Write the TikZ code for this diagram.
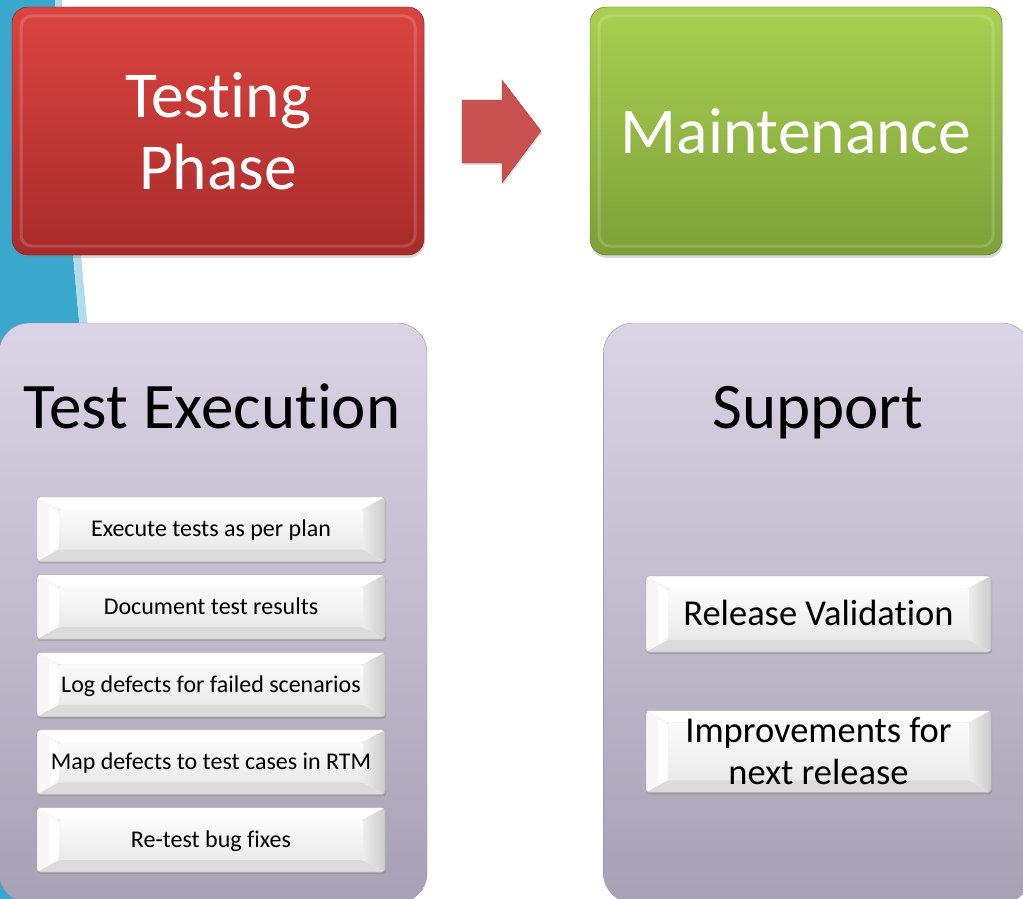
\documentclass[tikz,border=0pt]{standalone}
\usepackage{fontspec}
\setmainfont{Carlito}[Ligatures=NoCommon]
\usetikzlibrary{positioning,shadows}
\definecolor{redtop}{RGB}{218,68,64}
\definecolor{redbot}{RGB}{168,44,42}
\definecolor{greentop}{RGB}{168,208,80}
\definecolor{greenbot}{RGB}{126,160,58}
\definecolor{lavtop}{RGB}{218,212,230}
\definecolor{lavbot}{RGB}{168,161,181}
\definecolor{lavline}{RGB}{150,142,165}
\definecolor{bgblue}{RGB}{58,167,206}
\definecolor{arrowred}{RGB}{200,80,78}
\begin{document}
\begin{tikzpicture}[x=1pt,y=-1pt,node distance=578pt,
  phase node/.style={rectangle,rounded corners=16pt,minimum width=412pt,minimum height=248pt,inner sep=0pt,text=white,align=center,font=\fontsize{65.5}{72}\selectfont,
    drop shadow={opacity=.3,shadow xshift=1pt,shadow yshift=-3pt},
    path picture={\draw[white,opacity=.16,line width=3pt,rounded corners=11pt] ([xshift=9pt,yshift=-9pt]path picture bounding box.north west) rectangle ([xshift=-9pt,yshift=9pt]path picture bounding box.south east);}},
  lav node/.style={rectangle,rounded corners=30pt,minimum width=428pt,minimum height=580pt,draw=lavline,top color=lavtop,bottom color=lavbot},
  head node/.style={font=\fontsize{65}{70}\selectfont,anchor=base},
  task node/.style={rectangle,rounded corners=3pt,minimum width=348pt,minimum height=64.5pt,inner sep=0pt,draw=gray!65,fill=gray!15,align=center,font=\fontsize{24}{28}\selectfont,
    drop shadow={opacity=.4,shadow xshift=1pt,shadow yshift=-2pt},
    path picture={
      \coordinate (nw) at (path picture bounding box.north west);
      \coordinate (ne) at (path picture bounding box.north east);
      \coordinate (sw) at (path picture bounding box.south west);
      \coordinate (se) at (path picture bounding box.south east);
      \fill[top color=gray!3,bottom color=gray!17] ([xshift=22pt,yshift=-12pt]nw) rectangle ([xshift=-22pt,yshift=12pt]se);
      \fill[white] (nw) -- ([xshift=22pt,yshift=-12pt]nw) -- ([xshift=-22pt,yshift=-12pt]ne) -- (ne) -- cycle;
      \fill[gray!6] (nw) -- ([xshift=22pt,yshift=-12pt]nw) -- ([xshift=22pt,yshift=12pt]sw) -- (sw) -- cycle;
      \fill[white] ([xshift=12pt,yshift=-8pt]nw) -- ([xshift=22pt,yshift=-16pt]nw) -- ([xshift=22pt,yshift=16pt]sw) -- ([xshift=12pt,yshift=8pt]sw) -- cycle;
      \fill[gray!28] (sw) -- ([xshift=22pt,yshift=12pt]sw) -- ([xshift=-22pt,yshift=12pt]se) -- (se) -- cycle;
      \fill[left color=gray!15,right color=gray!40] (ne) -- ([xshift=-22pt,yshift=-12pt]ne) -- ([xshift=-22pt,yshift=12pt]se) -- (se) -- cycle;}},
  oneline/.style={text height=15pt,text depth=0pt},
  big task/.style={task node,minimum width=345pt,font=\fontsize{36.5}{42}\selectfont}]
\fill[white] (0,0) rectangle (1023,899);
\useasboundingbox (0,0) rectangle (1023,899);
% background band
\fill[bgblue] (0,0) -- (55,0) .. controls (62,110) and (70,230) .. (80,330) -- (110,899) -- (0,899) -- cycle;
\fill[bgblue!40!white] (55,0) .. controls (62,110) and (70,230) .. (80,330) -- (88,330) .. controls (78,230) and (69,110) .. (62,0) -- cycle;

\node[phase node,top color=redtop,bottom color=redbot,draw=redbot!70!black] (testing) at (218,131) {Testing\\Phase};
\node[phase node,top color=greentop,bottom color=greenbot,draw=greenbot!70!black] (maint) [right of=testing] {Maintenance};
\fill[arrowred,draw=arrowred!85!black,drop shadow={opacity=.25,shadow xshift=1pt,shadow yshift=-2pt}] (462,100) -- (502,100) -- (502,80) -- (541,131) -- (502,183) -- (502,163) -- (462,163) -- cycle;

\node[lav node] (execbox) at (213,613) {};
\node[lav node] (supbox) [right=176pt of execbox] {};
\node[head node] (exechead) at (212,428) {Test Execution};
\node[head node] (suphead) at (818,428) {Support};

\node[task node,oneline] (t1) at (211,529.25) {Execute tests as per plan};
\node[task node,oneline] (t2) [below=12.75pt of t1] {Document test results};
\node[task node,oneline] (t3) [below=12.75pt of t2] {Log defects for failed scenarios};
\node[task node,oneline] (t4) [below=12.75pt of t3] {Map defects to test cases in RTM};
\node[task node,oneline] (t5) [below=12.75pt of t4] {Re-test bug fixes};

\node[big task,minimum height=76pt,text height=23pt,text depth=0pt] (release) at (818.5,614) {Release Validation};
\node[big task,minimum height=82pt] (improve) [below=58pt of release] {Improvements for\\next release};
\end{tikzpicture}
\end{document}
